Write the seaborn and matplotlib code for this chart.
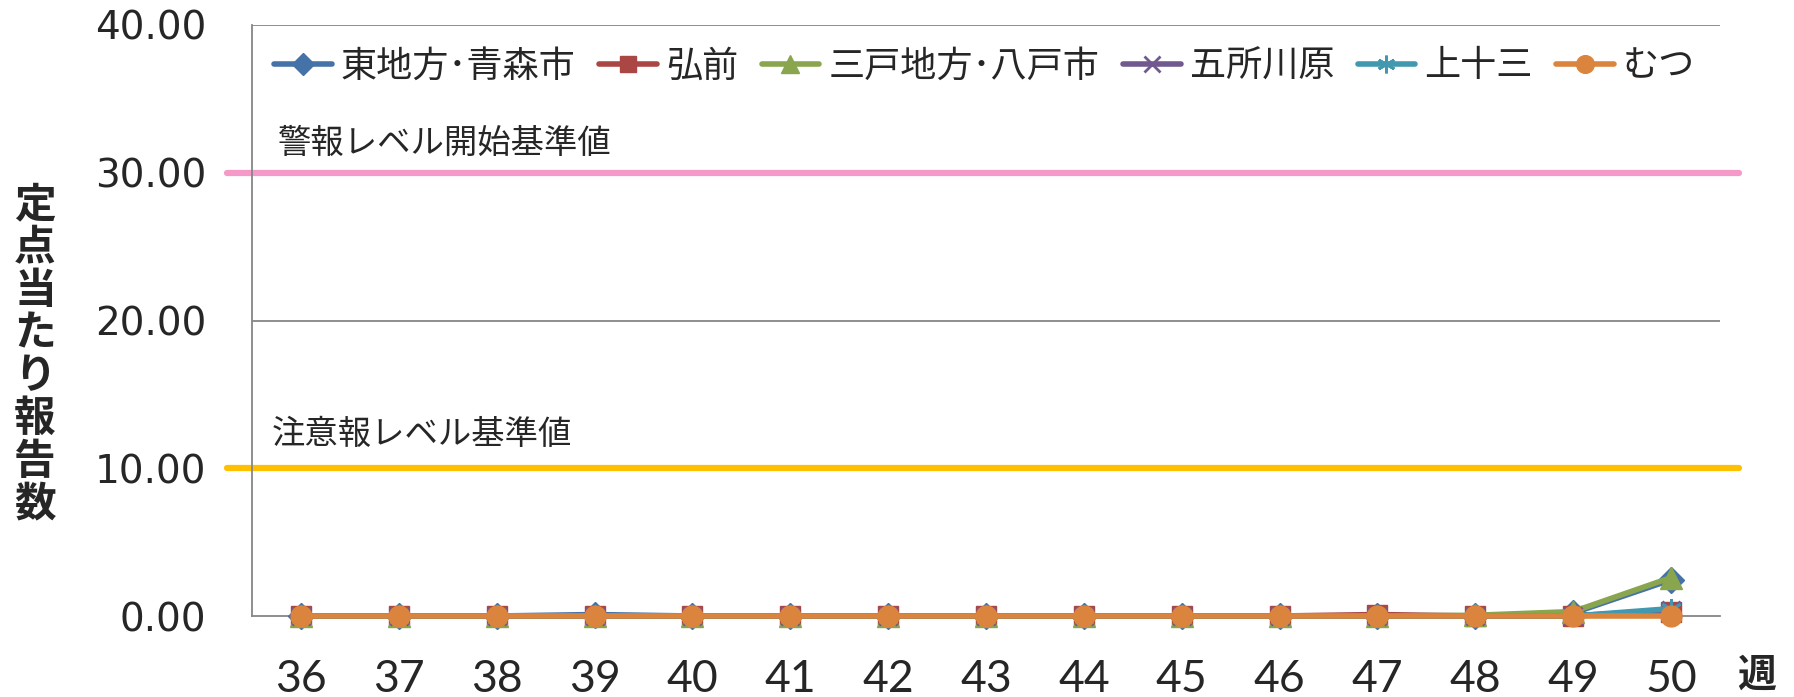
import matplotlib
matplotlib.use("Agg")
import matplotlib.pyplot as plt
import seaborn as sns
import pandas as pd
import numpy as np

weeks = ["36", "37", "38", "39", "40", "41", "42", "43", "44", "45", "46", "47", "48", "49", "50"]
series_names = ["東地方･青森市", "弘前", "三戸地方･八戸市", "五所川原", "上十三", "むつ"]
higashi = [0, 0, 0, 0.1, 0, 0, 0, 0, 0, 0, 0, 0, 0, 0.2, 2.45]
hirosaki = [0, 0, 0, 0, 0, 0, 0, 0, 0, 0, 0, 0.1, 0, 0, 0.3]
sannohe = [0, 0, 0, 0, 0, 0, 0, 0, 0, 0, 0, 0, 0.05, 0.3, 2.6]
goshogawara = [0, 0, 0, 0, 0, 0, 0, 0, 0, 0, 0, 0, 0, 0, 0.4]
kamitosan = [0, 0, 0, 0, 0, 0, 0, 0, 0, 0, 0, 0, 0, 0, 0.5]
mutsu = [0, 0, 0, 0, 0, 0, 0, 0, 0, 0, 0, 0, 0, 0, 0]
warning_level = 30.0
caution_level = 10.0
warning_label = "警報レベル開始基準値"
caution_label = "注意報レベル基準値"
y_ticks = [0, 10, 20, 30, 40]

values = [higashi, hirosaki, sannohe, goshogawara, kamitosan, mutsu]
colors = ["#4572A7", "#AA4643", "#89A54E", "#71588F", "#4198AF", "#DB843D"]
markers = ["D", "s", "^", "x", (6, 2, 0), "o"]
msizes = [13, 14, 16, 13, 15, 15]

sns.set_style("white")
cjk = ["Noto Sans CJK JP", "DejaVu Sans"]
plt.rcParams["font.family"] = cjk

fig = plt.figure(figsize=(17.94, 6.97), dpi=100)
ax = fig.add_axes([252 / 1794, 1 - 616 / 697, (1720 - 252) / 1794, (616 - 25) / 697])

xpos = np.arange(len(weeks)) + 0.5
for name, vals, c, m, ms in zip(series_names, values, colors, markers, msizes):
    df = pd.DataFrame({"x": xpos, "y": vals})
    thin = (m == "x") or isinstance(m, tuple)
    n_before = len(ax.lines)
    sns.lineplot(data=df, x="x", y="y", color=c, marker=m,
                 markeredgecolor=c, markeredgewidth=2.0 if thin else 1,
                 linewidth=4.0, label=name, ax=ax, zorder=3)
    for ln in ax.lines[n_before:]:
        ln.set_markersize(ms)
        ln.set_clip_on(False)

ax.set_xlim(0, len(weeks))
ax.set_ylim(0, 40)
ax.set_yticks(y_ticks)
ax.set_yticklabels([f"{v:.2f}" for v in y_ticks], fontsize=28, family="DejaVu Sans")
ax.set_xticks(np.arange(len(weeks) + 1))
ax.set_xticklabels([])
ax.set_xticks(xpos, minor=True)
ax.set_xticklabels(weeks, minor=True, fontsize=32, family=["Lato", "DejaVu Sans"])
ax.tick_params(axis="x", which="major", length=11, width=1.3, color="#868686", direction="out")
ax.tick_params(axis="x", which="minor", length=0, pad=46)
ax.tick_params(axis="y", length=11, width=1.3, color="#868686", direction="out", pad=22)
for lab in ax.get_xticklabels(minor=True):
    lab.set_va("center")
ax.set_xlabel("")
ax.set_ylabel("")

for v in y_ticks[1:]:
    ax.axhline(v, color="#868686", linewidth=1.3, zorder=1)
for s in ["top", "right"]:
    ax.spines[s].set_visible(False)
for s in ["left", "bottom"]:
    ax.spines[s].set_color("#868686")
    ax.spines[s].set_linewidth(1.3)

ax.axhline(warning_level, xmin=-0.017, xmax=1.013, color="#F59AC8", linewidth=4.5, clip_on=False, zorder=2)
ax.axhline(caution_level, xmin=-0.017, xmax=1.013, color="#FFC000", linewidth=4.5, clip_on=False, zorder=2)
ax.text(0.27, 32.0, warning_label, fontsize=24, va="center", ha="left", family=cjk)
ax.text(0.20, 12.3, caution_label, fontsize=24, va="center", ha="left", family=cjk)

leg = ax.legend(loc="center left", bbox_to_anchor=(0.015, 0.93), ncol=6, frameon=False,
                prop={"family": cjk, "size": 26}, handlelength=1.6, handletextpad=0.25,
                columnspacing=0.65, borderpad=0, borderaxespad=0)
for h in leg.legend_handles:
    h.set_markersize(h.get_markersize() * 0.85)

fig.text(35 / 1794, 1 - 355 / 697, "\n".join("定点当たり報告数"), fontsize=30, fontweight="bold",
         ha="center", va="center", linespacing=1.02, family=cjk)
fig.text(1757 / 1794, 1 - 675 / 697, "週", fontsize=28, fontweight="bold", ha="center", va="center", family=cjk)

fig.savefig("out.png", dpi=100)
